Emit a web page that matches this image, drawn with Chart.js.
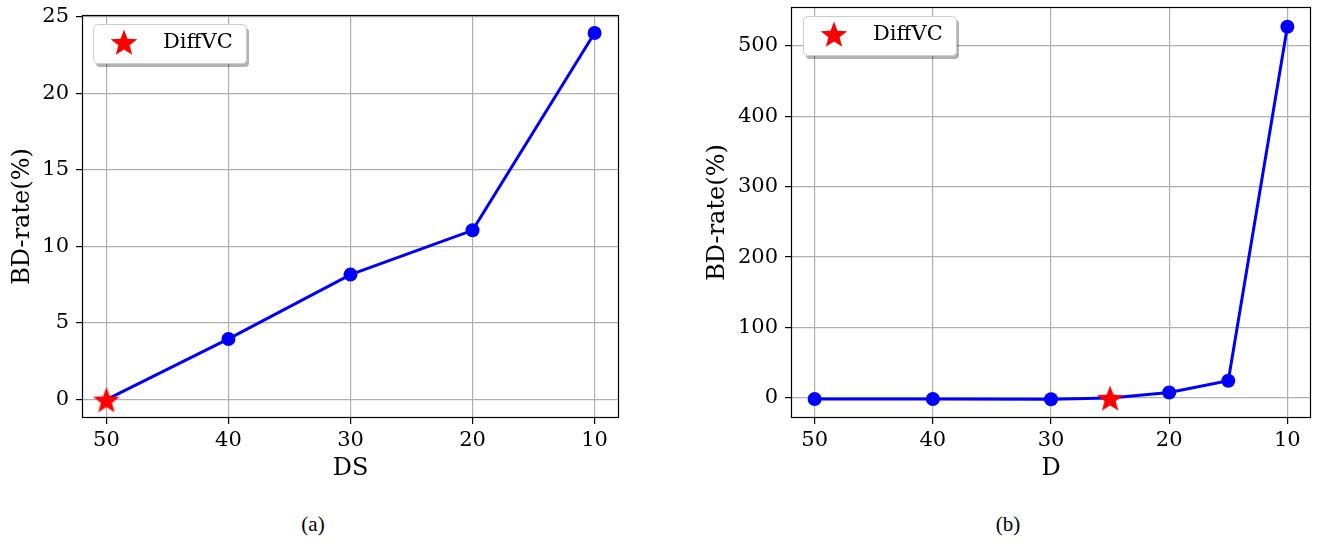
<!DOCTYPE html>
<html>
<head>
<meta charset="utf-8">
<script src="https://cdn.jsdelivr.net/npm/chart.js@4.4.1/dist/chart.umd.min.js"></script>
<style>
  body { margin: 0; background: #fff; width: 1318px; height: 546px; position: relative; overflow: hidden; }
  .box { position: absolute; top: 0; height: 500px; }
  .cap { position: absolute; top: 512px; font: 21px "Liberation Serif", serif; color: #000; transform: translateX(-50%); }
</style>
</head>
<body>
<div class="box" style="left:0;width:660px"><canvas id="chartA"></canvas></div>
<div class="box" style="left:660px;width:658px"><canvas id="chartB"></canvas></div>
<div class="cap" style="left:313px">(a)</div>
<div class="cap" style="left:1008px">(b)</div>
<script>
// (a) BD-rate vs DS
const dsSteps = [50, 40, 30, 20, 10]
const dsRate = [0, 3.96, 8.16, 11.05, 23.93]
const dsStarX = [50]
const dsStarY = [0]
const dsYTicks = [0, 5, 10, 15, 20, 25]

// (b) BD-rate vs D
const dSteps = [50, 40, 30, 25, 20, 15, 10]
const dRate = [-1.6, -1.6, -1.9, 0, 7.8, 24.3, 527]
const dStarX = [25]
const dStarY = [0]
const dYTicks = [0, 100, 200, 300, 400, 500]

const xTicks = [50, 40, 30, 20, 10]

Chart.defaults.font.family = "'DejaVu Serif', serif"
Chart.defaults.color = '#000'

// red five point star used as marker image
function makeStar(size) {
  const c = document.createElement('canvas')
  c.width = size
  c.height = size
  const g = c.getContext('2d')
  const r = size / 2, ri = r * 0.42
  g.beginPath()
  for (let i = 0; i < 10; i++) {
    const rad = i % 2 === 0 ? r : ri
    const a = -Math.PI / 2 + i * Math.PI / 5
    const px = r + rad * Math.cos(a), py = r + 1.5 + rad * Math.sin(a)
    if (i === 0) g.moveTo(px, py)
    else g.lineTo(px, py)
  }
  g.closePath()
  g.fillStyle = '#ff0000'
  g.fill()
  return c
}
const starImg = makeStar(28)

const frame = {
  id: 'frame',
  afterDatasetsDraw(chart) {
    const { ctx, chartArea: a } = chart
    ctx.save()
    ctx.strokeStyle = '#000'
    ctx.lineWidth = 1.2
    ctx.strokeRect(a.left + 0.5, a.top + 0.5, a.right - a.left - 1, a.bottom - a.top - 1)
    ctx.restore()
  }
}

const legendBox = {
  id: 'legendBox',
  afterDraw(chart, args, opts) {
    const { ctx, chartArea: a } = chart
    const x = a.left + opts.dx, y = a.top + opts.dy, w = 153, h = 39
    ctx.save()
    ctx.fillStyle = 'rgba(0,0,0,0.3)'
    ctx.beginPath()
    ctx.roundRect(x + 3, y + 4, w, h, 4)
    ctx.fill()
    ctx.fillStyle = '#fff'
    ctx.strokeStyle = '#cccccc'
    ctx.lineWidth = 1
    ctx.beginPath()
    ctx.roundRect(x + 0.5, y + 0.5, w, h, 4)
    ctx.fill()
    ctx.stroke()
    ctx.drawImage(starImg, x + 17, y + 4)
    ctx.fillStyle = '#000'
    ctx.font = "21px 'DejaVu Serif'"
    ctx.textBaseline = 'middle'
    ctx.fillText('DiffVC', x + 70, y + 19)
    ctx.restore()
  }
}

function toPoints(xs, ys) {
  return xs.map((x, i) => ({ x: x, y: ys[i] }))
}

function buildChart(id, cfg) {
  return new Chart(document.getElementById(id), {
    type: 'scatter',
    data: {
      datasets: [
        {
          data: toPoints(cfg.starX, cfg.starY),
          pointStyle: starImg,
          showLine: false
        },
        {
          data: toPoints(cfg.xs, cfg.ys),
          showLine: true,
          borderColor: '#0000ff',
          backgroundColor: '#0000ff',
          borderWidth: 3,
          // no blue dot where the star marker sits
          pointRadius: (c) => (c.raw && cfg.starX.includes(c.raw.x) ? 0 : 7),
          pointBorderWidth: 0
        }
      ]
    },
    options: {
      responsive: true,
      maintainAspectRatio: false,
      animation: false,
      layout: { padding: { top: cfg.padTop, right: cfg.padRight, left: 0, bottom: 0 } },
      plugins: {
        legend: { display: false },
        tooltip: { enabled: false },
        legendBox: { dx: cfg.legDx, dy: cfg.legDy }
      },
      scales: {
        x: {
          type: 'linear',
          reverse: true,
          min: 8,
          max: 52,
          afterBuildTicks: (s) => { s.ticks = xTicks.map(v => ({ value: v })) },
          afterFit: (s) => { s.height = 82; s.paddingLeft = 0; s.paddingRight = 0 },
          grid: { color: '#b0b0b0', lineWidth: 1.2, tickColor: '#000', tickLength: 6 },
          border: { display: false },
          ticks: { font: { size: 21 }, padding: 4, maxRotation: 0 },
          title: { display: true, text: cfg.xTitle, font: { size: 24 }, padding: { bottom: 17 } }
        },
        y: {
          min: cfg.yMin,
          max: cfg.yMax,
          afterBuildTicks: (s) => { s.ticks = cfg.yTicks.map(v => ({ value: v })) },
          afterFit: (s) => { s.width = cfg.yWidth; s.paddingTop = 0; s.paddingBottom = 0 },
          grid: { color: '#b0b0b0', lineWidth: 1.2, tickColor: '#000', tickLength: 6 },
          border: { display: false },
          ticks: { font: { size: 21 }, padding: 7 },
          title: { display: true, text: 'BD-rate(%)', font: { size: 24 }, padding: { top: cfg.yTitlePad } }
        }
      }
    },
    plugins: [frame, legendBox]
  })
}

buildChart('chartA', {
  xs: dsSteps, ys: dsRate, starX: dsStarX, starY: dsStarY,
  xTitle: 'DS', yMin: -1.2, yMax: 25.1, yTicks: dsYTicks,
  yWidth: 82, yTitlePad: 8, padTop: 15, padRight: 41, legDx: 11, legDy: 9
})

buildChart('chartB', {
  xs: dSteps, ys: dRate, starX: dStarX, starY: dStarY,
  xTitle: 'D', yMin: -28.5, yMax: 555, yTicks: dYTicks,
  yWidth: 131, yTitlePad: 43, padTop: 5, padRight: 2, legDx: 12, legDy: 9
})
</script>
</body>
</html>
